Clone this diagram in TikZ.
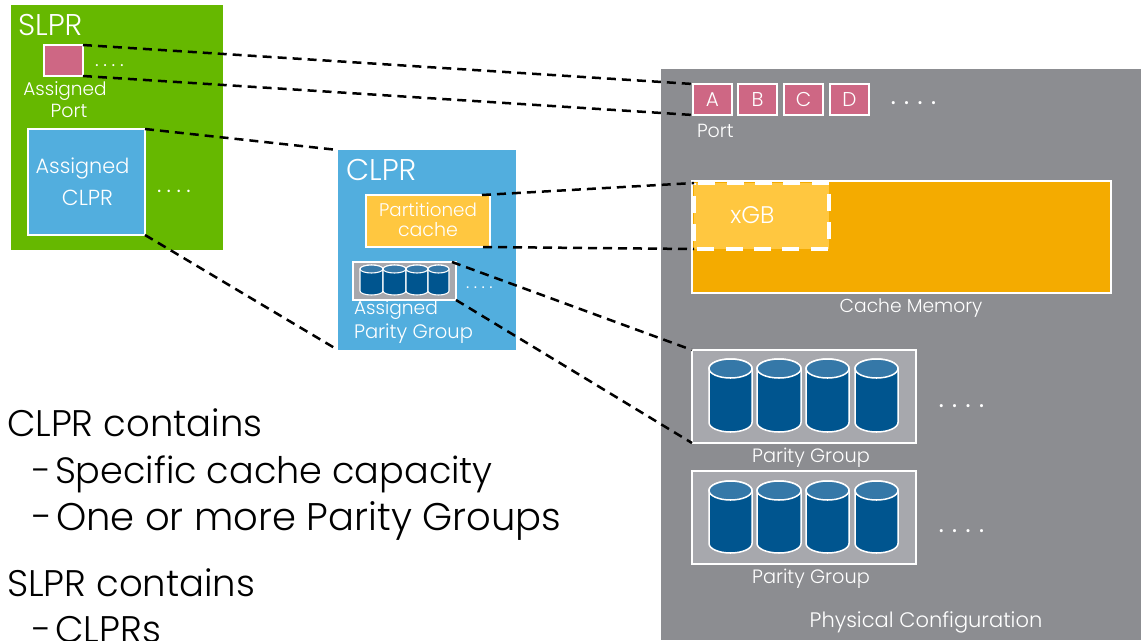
\documentclass[tikz,border=0pt]{standalone}
\usepackage{fontspec}
\setmainfont{Poppins Light}
\definecolor{slprgreen}{HTML}{66B800}
\definecolor{clprblue}{HTML}{52AEDE}
\definecolor{portpink}{HTML}{CE6784}
\definecolor{cacheorange}{HTML}{F4AB00}
\definecolor{cachelight}{HTML}{FFC740}
\definecolor{physgray}{HTML}{8C8D91}
\definecolor{pggray}{HTML}{A7A8AD}
\definecolor{diskdark}{HTML}{00558F}
\definecolor{disktop}{HTML}{3578A8}
\newcommand{\fs}[1]{\fontsize{#1}{#1}\selectfont}
\newcommand{\dotrow}[1]{.\hspace{#1}.\hspace{#1}.\hspace{#1}.}
\newcommand{\cyl}[5]{% x1 x2 ytop ybot ry
  \pgfmathsetmacro{\rxx}{(#2-#1)/2}
  \draw[white,line width={(#5*0.08+0.75)*1pt},fill=diskdark] (#1,#3+#5) -- (#1,#4-#5) arc[start angle=180,end angle=0,x radius=\rxx,y radius=#5] -- (#2,#3+#5) arc[start angle=0,end angle=-180,x radius=\rxx,y radius=#5] -- cycle;
  \draw[white,line width={(#5*0.08+0.75)*1pt},fill=disktop] ({(#1+#2)/2},#3+#5) ellipse[x radius=\rxx,y radius=#5];
}
\tikzset{
  box/.style={draw=white,line width=1.3pt,inner sep=0pt,outer sep=0pt,rectangle},
  plain/.style={inner sep=0pt,outer sep=0pt,rectangle},
  lbl/.style={anchor=base west,inner sep=0pt,outer sep=0pt,text=white},
  lblc/.style={anchor=base,inner sep=0pt,outer sep=0pt,text=white},
  big/.style={anchor=base west,inner sep=0pt,outer sep=0pt,text=black},
  link/.style={draw=black,line width=2.5pt,dash pattern=on 9pt off 6pt},
  portbox/.style={box,fill=portpink,minimum width=39pt,minimum height=31pt,text=white,font=\fs{20}},
  pgbox/.style={box,fill=pggray,minimum width=224pt,minimum height=93pt},
}
\begin{document}
\begin{tikzpicture}[x=1pt,y=-1pt]
\useasboundingbox (0,0) rectangle (1148,640);
\fill[white] (0,0) rectangle (1148,640);
% containers
\node[plain,fill=physgray,minimum width=480pt,minimum height=571pt] (phys) at (901,354.5) {};
\node[plain,fill=slprgreen,minimum width=212pt,minimum height=245pt] (slpr) at (117,127.5) {};
\node[plain,fill=clprblue,minimum width=178pt,minimum height=200pt] (clpr) at (427,250) {};
% SLPR content
\node[lbl,font=\fs{30}] (slprt) at (18,35) {SLPR};
\node[box,fill=portpink,minimum width=39pt,minimum height=31pt] (aport) at (63.5,60.5) {};
\node[lbl,font=\fs{20}] (dots1) at (95,66) {\dotrow{4.7pt}};
\node[lblc,font=\fs{18.5}] (ap1) at (65,95) {Assigned};
\node[lblc,font=\fs{19}] (ap2) at (69,117) {Port};
\node[box,fill=clprblue,minimum width=117pt,minimum height=106pt] (aclpr) at (86.5,182) {};
\node[lblc,font=\fs{20.8}] (ac1) at (82.5,173) {Assigned};
\node[lblc,font=\fs{21.8}] (ac2) at (87.5,205) {CLPR};
\node[lbl,font=\fs{24}] (dots2) at (157,192.5) {\dotrow{5.4pt}};
% CLPR content
\node[lbl,font=\fs{30}] (clprt) at (346,180) {CLPR};
\node[box,fill=cachelight,minimum width=124pt,minimum height=52pt] (pcache) at (428,221) {};
\node[lblc,font=\fs{18.3}] (pc1) at (428,216) {Partitioned};
\node[lblc,font=\fs{19}] (pc2) at (428,236) {cache};
\node[box,fill=pggray,minimum width=103pt,minimum height=38pt] (apg) at (404.5,281) {};
\cyl{360}{383}{265}{295}{4}
\cyl{383}{406}{265}{295}{4}
\cyl{406}{428}{265}{295}{4}
\cyl{428}{449}{265}{295}{4}
\node[lbl,font=\fs{18}] (dots3) at (466,288) {\dotrow{4.5pt}};
\node[lbl,font=\fs{18.6}] (apg1) at (354,314) {Assigned};
\node[lbl,font=\fs{19.5}] (apg2) at (354,338) {Parity Group};
% Physical: ports
\node[portbox] (pa) at (712.5,99.5) {A};
\node[portbox] (pb) at (757.5,99.5) {B};
\node[portbox] (pc) at (803.5,99.5) {C};
\node[portbox] (pd) at (849.5,99.5) {D};
\node[lbl,font=\fs{30}] (dots4) at (890.5,104) {\dotrow{8pt}};
\node[lbl,font=\fs{19}] (portl) at (697,137) {Port};
% Cache
\node[box,fill=cacheorange,minimum width=419pt,minimum height=112pt] (cmem) at (901.5,237) {};
\node[plain,fill=cachelight,minimum width=135pt,minimum height=66pt] (xgb) at (761.5,216) {};
\draw[white,line width=4pt,dash pattern=on 17pt off 11.3pt,dash phase=24pt] (xgb.north west) -- (xgb.north east) -- (xgb.south east) -- (xgb.south west) -- cycle;
\node[lblc,font=\fs{24}] (xgbl) at (752.5,223) {xGB};
\node[lblc,font=\fs{18.7}] (cml) at (911,312) {Cache Memory};
% Parity groups
\node[pgbox] (pg1) at (804,396.5) {};
\node[pgbox] (pg2) at (804,517.5) {};
\foreach \a/\b in {709/752,757/801,806/849,855/898}{
  \cyl{\a}{\b}{359}{432}{9.5}
  \cyl{\a}{\b}{481}{553}{9.5}
}
\node[lbl,font=\fs{30}] (dots5) at (938.5,407) {\dotrow{8pt}};
\node[lbl,font=\fs{30}] (dots6) at (938.5,532) {\dotrow{8pt}};
\node[lblc,font=\fs{19.3}] (pgl1) at (811,462) {Parity Group};
\node[lblc,font=\fs{19.3}] (pgl2) at (811,583) {Parity Group};
\node[lblc,font=\fs{21}] (physl) at (926,627) {Physical Configuration};
% free ends
\coordinate (pcne) at (482,195);
\coordinate (pcse) at (483,247);
\coordinate (apgne) at (452,262);
% connectors
\draw[link] (aport.north east) -- (pa.north west);
\draw[link] (aport.south east) -- (pa.south west);
\draw[link] (aclpr.north east) -- (clpr.north west);
\draw[link] (aclpr.south east) -- (clpr.south west);
\draw[link] (pcne) -- (xgb.north west);
\draw[link] (pcse) -- (xgb.south west);
\draw[link] (apgne) -- (pg1.north west);
\draw[link] (apg.south east) -- (pg1.south west);
% text block
\node[big,font=\fs{37}] (t1) at (7,436) {CLPR contains};
\node[big,font=\fs{36.6}] (t2) at (32,483) {-\hspace{-6pt} Specific cache capacity};
\node[big,font=\fs{38.5}] (t3) at (32,530) {-\hspace{-6.5pt} One or more Parity Groups};
\node[big,font=\fs{37}] (t4) at (7,596) {SLPR contains};
\node[big,font=\fs{37}] (t5) at (32,642) {-\hspace{-6pt} CLPRs};
\end{tikzpicture}
\end{document}
